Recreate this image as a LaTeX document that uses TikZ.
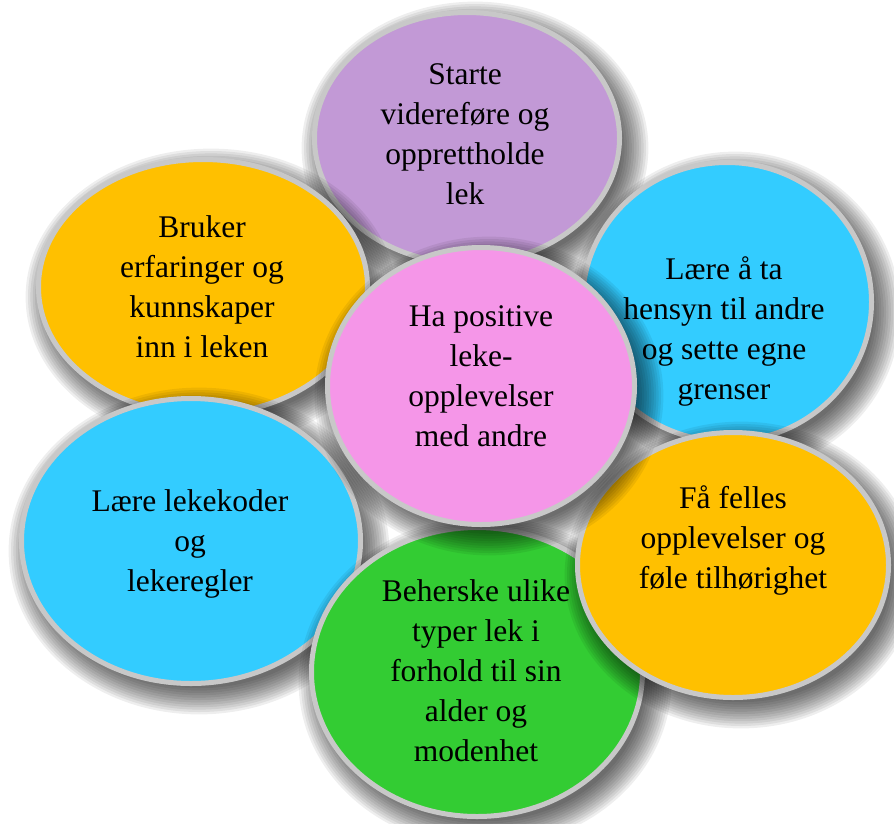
\documentclass[tikz,border=0pt]{standalone}
\usepackage{fontspec}
\setmainfont{Liberation Serif}
\usetikzlibrary{shapes.geometric}
\definecolor{cpurple}{RGB}{194,153,214}
\definecolor{corange}{RGB}{255,192,0}
\definecolor{cblue}{RGB}{51,204,255}
\definecolor{cpink}{RGB}{245,150,232}
\definecolor{cgreen}{RGB}{51,204,51}
\definecolor{cborder}{RGB}{200,200,200}
\tikzset{
  bub/.style={ellipse, draw=cborder, line width=5pt, inner sep=0pt},
  txt/.style={align=center, text=black, inner sep=0pt, font=\fontsize{31.5}{40}\selectfont},
  shd/.style={fill=black, opacity=0.065}
}
\newcommand{\mybubble}[9]{%
  \foreach \k in {0,...,11}{%
    \pgfmathsetmacro\rxx{#4-8+2.4*\k}%
    \pgfmathsetmacro\ryy{#5-8+2.4*\k}%
    \fill[shd] ({#2+8},{#3+10}) ellipse [x radius=\rxx pt, y radius=\ryy pt];
  }
  \node[bub, fill=#6, minimum width={2*#4-5}, minimum height={2*#5-5}] (#1) at (#2,#3) {};
  \node[txt] (#1t) at (#7,#8) {#9};
}
\begin{document}
\begin{tikzpicture}[x=1pt,y=-1pt]
\useasboundingbox[fill=white] (0,0) rectangle (894,823);
\mybubble{top}{467}{138}{155}{128}{cpurple}{465}{134}{Starte\\videreføre og\\opprettholde\\lek}
\mybubble{lo}{203}{287}{167}{130}{corange}{202}{287}{Bruker\\erfaringer og\\kunnskaper\\inn i leken}
\mybubble{rb}{727}{302}{147}{142}{cblue}{724}{331}{Lære å ta\\hensyn til andre\\og sette egne\\grenser}
\mybubble{lb}{191}{541}{172}{145}{cblue}{190}{544}{Lære lekekoder\\og\\lekeregler}
\mybubble{gr}{477}{672}{168}{147}{cgreen}{476}{671}{Beherske ulike\\typer lek i\\forhold til sin\\alder og\\modenhet}
\mybubble{ro}{733}{565}{158}{135}{corange}{733}{540}{Få felles\\opplevelser og\\føle tilhørighet}
\mybubble{ce}{481}{386}{156}{141}{cpink}{481}{376}{Ha positive\\leke-\\opplevelser\\med andre}
\end{tikzpicture}
\end{document}
